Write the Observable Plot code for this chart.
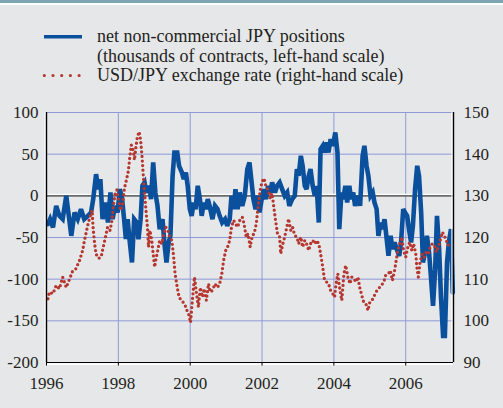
<!DOCTYPE html>
<html><head><meta charset="utf-8">
<script src="https://cdn.jsdelivr.net/npm/d3@7"></script>
<script src="https://cdn.jsdelivr.net/npm/@observablehq/plot@0.6"></script>
<style>
html,body{margin:0;padding:0;background:#e6e7e9;}
#wrap{position:relative;width:503px;height:408px;background:#e6e7e9;overflow:hidden;font-family:'Liberation Serif';color:#231f20;}
#stripe{position:absolute;left:0;top:0;width:503px;height:3px;background:#7ea3b1;}
#stripe2{position:absolute;left:0;top:3px;width:503px;height:1.5px;background:#ffffff;}
#legend{position:absolute;left:97px;top:27px;font-size:18px;line-height:19.5px;white-space:nowrap;font-family:'Liberation Serif';}
#swatch{position:absolute;left:0;top:0;}
#chart{position:absolute;left:0;top:0;}
#chart text{font-family:'Liberation Serif';}
</style></head>
<body><div id="wrap">
<div id="stripe"></div><div id="stripe2"></div>
<svg id="swatch" width="100" height="100"></svg>
<div id="legend"></div>
<div id="chart"></div>
</div>
<script>
// Net non-commercial JPY positions (thousands of contracts, left-hand scale)
const posYears = [1996.04,1996.10,1996.18,1996.27,1996.36,1996.45,1996.55,1996.62,1996.69,1996.78,1996.87,1996.96,
1997.05,1997.15,1997.24,1997.30,1997.38,1997.44,1997.50,1997.56,1997.64,1997.71,1997.78,1997.84,1997.91,1997.98,
1998.04,1998.10,1998.16,1998.21,1998.26,1998.30,1998.38,1998.44,1998.51,1998.56,1998.62,1998.67,1998.73,1998.78,1998.86,1998.91,1998.97,
1999.03,1999.09,1999.15,1999.23,1999.28,1999.34,1999.40,1999.45,1999.51,1999.56,1999.64,1999.69,1999.77,1999.82,1999.88,1999.93,1999.99,
2000.04,2000.10,2000.15,2000.21,2000.27,2000.32,2000.38,2000.43,2000.49,2000.54,2000.62,2000.69,2000.76,2000.82,2000.89,2000.97,
2001.03,2001.10,2001.15,2001.21,2001.26,2001.32,2001.38,2001.45,2001.52,2001.59,2001.65,2001.71,2001.76,2001.82,2001.87,2001.93,2001.99,
2002.05,2002.11,2002.17,2002.23,2002.28,2002.36,2002.42,2002.49,2002.56,2002.63,2002.70,2002.76,2002.84,2002.91,2002.97,
2003.02,2003.08,2003.13,2003.19,2003.24,2003.30,2003.35,2003.41,2003.47,2003.52,2003.58,2003.63,2003.69,2003.74,2003.80,2003.85,2003.91,2003.97,
2004.04,2004.10,2004.15,2004.21,2004.26,2004.32,2004.37,2004.43,2004.48,2004.54,2004.59,2004.67,2004.73,2004.80,2004.85,2004.91,2004.96,
2005.02,2005.08,2005.13,2005.19,2005.24,2005.30,2005.35,2005.41,2005.46,2005.52,2005.58,2005.63,2005.69,2005.75,2005.82,2005.87,2005.93,2005.98,
2006.04,2006.09,2006.15,2006.20,2006.26,2006.32,2006.37,2006.43,2006.48,2006.54,2006.59,2006.65,2006.70,2006.76,2006.82,2006.87,2006.93,2006.98,
2007.04,2007.09,2007.15,2007.20,2007.26,2007.31];
const positions = [-34,-28,-38,-12,-24,-28,0,-24,-48,-20,-28,-16,
-28,-24,-20,-4,26,8,20,-28,-8,-32,4,-28,-12,-20,
8,-2,-28,-52,-28,-48,-80,-28,-32,-52,-28,12,16,4,12,-4,40,
4,-12,-40,-28,-56,-80,-56,-48,24,52,52,36,28,20,28,12,-16,
-24,-8,-16,12,-4,-24,-8,-16,-4,-12,-28,-12,-16,-24,-32,-28,
-36,-28,0,-16,8,-16,4,-12,0,32,40,16,-4,-16,0,-20,-4,
8,-4,12,4,16,4,12,16,8,0,4,-12,-4,0,32,
24,48,36,12,8,24,32,12,0,12,-32,56,60,52,64,52,68,60,
76,52,-40,4,-4,12,-8,12,-4,4,-12,0,-12,48,60,36,24,
0,4,-8,-16,-48,-32,-40,-28,-48,-72,-48,-64,-56,-64,-72,-56,-16,-20,
-24,-40,-56,-36,8,36,24,-20,-80,-68,-48,-68,-96,-132,-88,-24,-64,-120,
-168,-168,-80,-56,-40,-116];

// USD/JPY exchange rate (right-hand scale)
const fxYears = [1996.04,1996.08,1996.18,1996.27,1996.36,1996.45,1996.55,1996.64,1996.73,1996.82,1996.92,
1997.01,1997.05,1997.10,1997.15,1997.21,1997.27,1997.30,1997.34,1997.38,1997.45,1997.52,1997.58,1997.64,1997.70,1997.77,1997.82,1997.87,1997.91,1997.96,
1998.01,1998.06,1998.12,1998.17,1998.23,1998.28,1998.32,1998.36,1998.41,1998.45,1998.49,1998.53,1998.58,1998.62,1998.66,1998.69,1998.73,1998.77,1998.81,1998.84,1998.88,1998.93,1998.97,
1999.01,1999.04,1999.10,1999.15,1999.21,1999.27,1999.32,1999.38,1999.43,1999.49,1999.54,1999.58,1999.64,1999.69,1999.75,1999.80,1999.86,1999.91,1999.97,
2000.01,2000.06,2000.12,2000.17,2000.23,2000.28,2000.34,2000.39,2000.45,2000.51,2000.56,2000.62,2000.69,2000.76,2000.82,2000.88,2000.93,2000.99,
2001.04,2001.10,2001.15,2001.21,2001.26,2001.32,2001.38,2001.45,2001.50,2001.56,2001.61,2001.67,2001.73,2001.78,2001.84,2001.89,2001.95,
2002.00,2002.06,2002.11,2002.17,2002.23,2002.28,2002.34,2002.37,2002.43,2002.49,2002.52,2002.58,2002.63,2002.69,2002.74,2002.80,2002.85,2002.91,2002.97,
2003.02,2003.08,2003.13,2003.19,2003.24,2003.30,2003.35,2003.41,2003.47,2003.52,2003.58,2003.63,2003.69,2003.74,2003.80,2003.85,2003.91,2003.97,
2004.02,2004.06,2004.11,2004.17,2004.22,2004.28,2004.33,2004.39,2004.45,2004.50,2004.56,2004.61,2004.67,2004.72,2004.78,2004.83,2004.89,2004.95,
2005.00,2005.06,2005.11,2005.17,2005.24,2005.32,2005.39,2005.44,2005.52,2005.57,2005.63,2005.69,2005.72,2005.78,2005.83,2005.89,2005.94,
2006.00,2006.06,2006.11,2006.17,2006.22,2006.28,2006.31,2006.35,2006.40,2006.46,2006.52,2006.57,2006.63,2006.68,2006.74,2006.80,2006.85,2006.91,2006.96,
2007.02,2007.07,2007.13,2007.18,2007.24];
const fxRates = [105.3,106.9,106.5,108.5,107.7,110.5,108,110,112,112.5,114.5,
117,119,121,123,125,126.5,122,118.5,116,115,115.3,117.7,120,122.5,121.7,124,128,130.5,131.4,
129,126.5,128,131.8,134,136,139.4,142.2,141,138.6,141.8,144.2,145.4,143.4,139.4,135.4,130.6,126.5,122.5,117.7,121.7,119.3,116.1,
112.9,114.5,117,119.3,118.5,121,122.5,121.7,120.1,119.3,115.3,111.3,108,105.7,104.9,104.5,103.7,102.5,101.3,
99.6,104.9,110.5,106.9,103.3,108,105.7,107.7,104.9,108.9,106.9,107.3,108.9,108,108.9,111.3,114.5,116.9,
117.7,119.3,122.5,124.1,123.3,122.5,124.1,124.9,123.3,120.1,120.9,117.7,120.5,120.9,123.3,127.3,131.4,
133.4,134.2,132.2,131.4,129.4,130.6,126.5,124.5,120.9,120.1,116.1,118.5,120.1,122.5,124.5,121.7,122.5,120.5,120.1,
118.5,120.1,117.7,119.3,118.5,116.9,118.5,119.3,118.5,119.3,118.5,116.1,112.9,109.7,109.3,108.9,107.3,106.5,
105.7,108.9,111.3,107.3,104.9,111.3,113.3,110.5,108.9,110.5,110.1,109.3,110.5,108,106,104.5,104.1,102.5,
104.5,104.9,105.7,106.9,107.7,108.5,109.3,110.9,111.3,112.1,109.7,112.1,113.7,116.9,118.5,120.1,116.9,
115.3,117.7,118.9,116.9,118.5,116.1,112.9,110.5,114.1,116.1,115.3,116.5,116.1,117.7,118.5,118.1,116.5,117.7,119.3,
121.3,120.5,119.3,118.1,118.9];

const leftTicks = [-200, -150, -100, -50, 0, 50, 100];
const rightTicks = [90, 100, 110, 120, 130, 140, 150];
const yearTicks = [1996, 1998, 2000, 2002, 2004, 2006];
const legendLabels = [
  "net non-commercial JPY positions",
  "(thousands of contracts, left-hand scale)",
  "USD/JPY exchange rate (right-hand scale)"
];

const BLUE = "#0a509c", RED = "#b5372f", GRID = "#8e9ad6", INK = "#231f20";
const SERIF = "Liberation Serif";
const xDomain = [1996, 2007.33];
const yDomain = [-200, 100];
// map right-hand (rate) scale onto left-hand scale: 90..150 -> -200..100
const toLeft = r => (r - 90) * 5 - 200;
const toRight = v => 90 + (v + 200) / 5;

const pos = posYears.map((t, i) => ({t, v: positions[i]}));
const fx = fxYears.map((t, i) => ({t, v: toLeft(fxRates[i])}));

const chart = Plot.plot({
  width: 503, height: 408,
  marginLeft: 46, marginRight: 50, marginTop: 112, marginBottom: 46,
  style: {background: "transparent", fontFamily: SERIF, fontSize: "17px", color: INK, overflow: "visible"},
  x: {domain: xDomain},
  y: {domain: yDomain},
  marks: [
    Plot.ruleX(yearTicks.slice(1), {stroke: GRID, strokeWidth: 1}),
    Plot.ruleY(leftTicks.filter(d => d !== 0 && d !== -200), {stroke: GRID, strokeWidth: 1}),
    Plot.ruleY([0], {stroke: "#ffffff", strokeWidth: 1.2, dy: -1.5}),
    Plot.ruleY([0], {stroke: "#6b6b6b", strokeWidth: 1.8}),
    Plot.line(pos, {x: "t", y: "v", stroke: BLUE, strokeWidth: 4.6, strokeLinejoin: "miter", strokeMiterlimit: 3}),
    Plot.line(fx, {x: "t", y: "v", stroke: RED, strokeWidth: 3.3, strokeDasharray: "0,4.6", strokeLinecap: "round"}),
    // frame
    Plot.ruleX([xDomain[0]], {stroke: "#ffffff", strokeWidth: 1.2, dx: -1.3}),
    Plot.ruleX([xDomain[0]], {stroke: "#000000", strokeWidth: 1.4}),
    Plot.ruleX([xDomain[1]], {stroke: "#ffffff", strokeWidth: 1.2, dx: -1.5}),
    Plot.ruleX([xDomain[1]], {stroke: "#000000", strokeWidth: 1.4}),
    Plot.ruleY([yDomain[0]], {stroke: "#ffffff", strokeWidth: 1.6, dy: 1.6}),
    Plot.ruleY([yDomain[0]], {stroke: "#000000", strokeWidth: 1.2}),
    Plot.axisY({ticks: leftTicks, tickFormat: d => String(d), anchor: "left", tickSize: 0, tickPadding: 8, label: null, fill: INK, fontFamily: SERIF}),
    Plot.axisY({ticks: rightTicks.map(toLeft), tickFormat: d => String(toRight(d)), anchor: "right", tickSize: 0, tickPadding: 10, label: null, fill: INK, fontFamily: SERIF}),
    Plot.axisX({ticks: yearTicks, tickFormat: d => String(d), anchor: "bottom", tickSize: 3.5, tickPadding: 11, label: null, stroke: "#000", fill: INK, fontFamily: SERIF})
  ]
});
document.getElementById("chart").appendChild(chart);

// legend
const leg = document.getElementById("legend");
legendLabels.forEach(s => { const d = document.createElement("div"); d.textContent = s; leg.appendChild(d); });
const sw = d3.select("#swatch");
sw.append("line").attr("x1", 44).attr("x2", 82).attr("y1", 36.7).attr("y2", 36.7)
  .attr("stroke", BLUE).attr("stroke-width", 3.6);
sw.append("line").attr("x1", 44.3).attr("x2", 80).attr("y1", 75.5).attr("y2", 75.5)
  .attr("stroke", RED).attr("stroke-width", 3.2).attr("stroke-dasharray", "0,8.7").attr("stroke-linecap", "round");
</script>
</body></html>
